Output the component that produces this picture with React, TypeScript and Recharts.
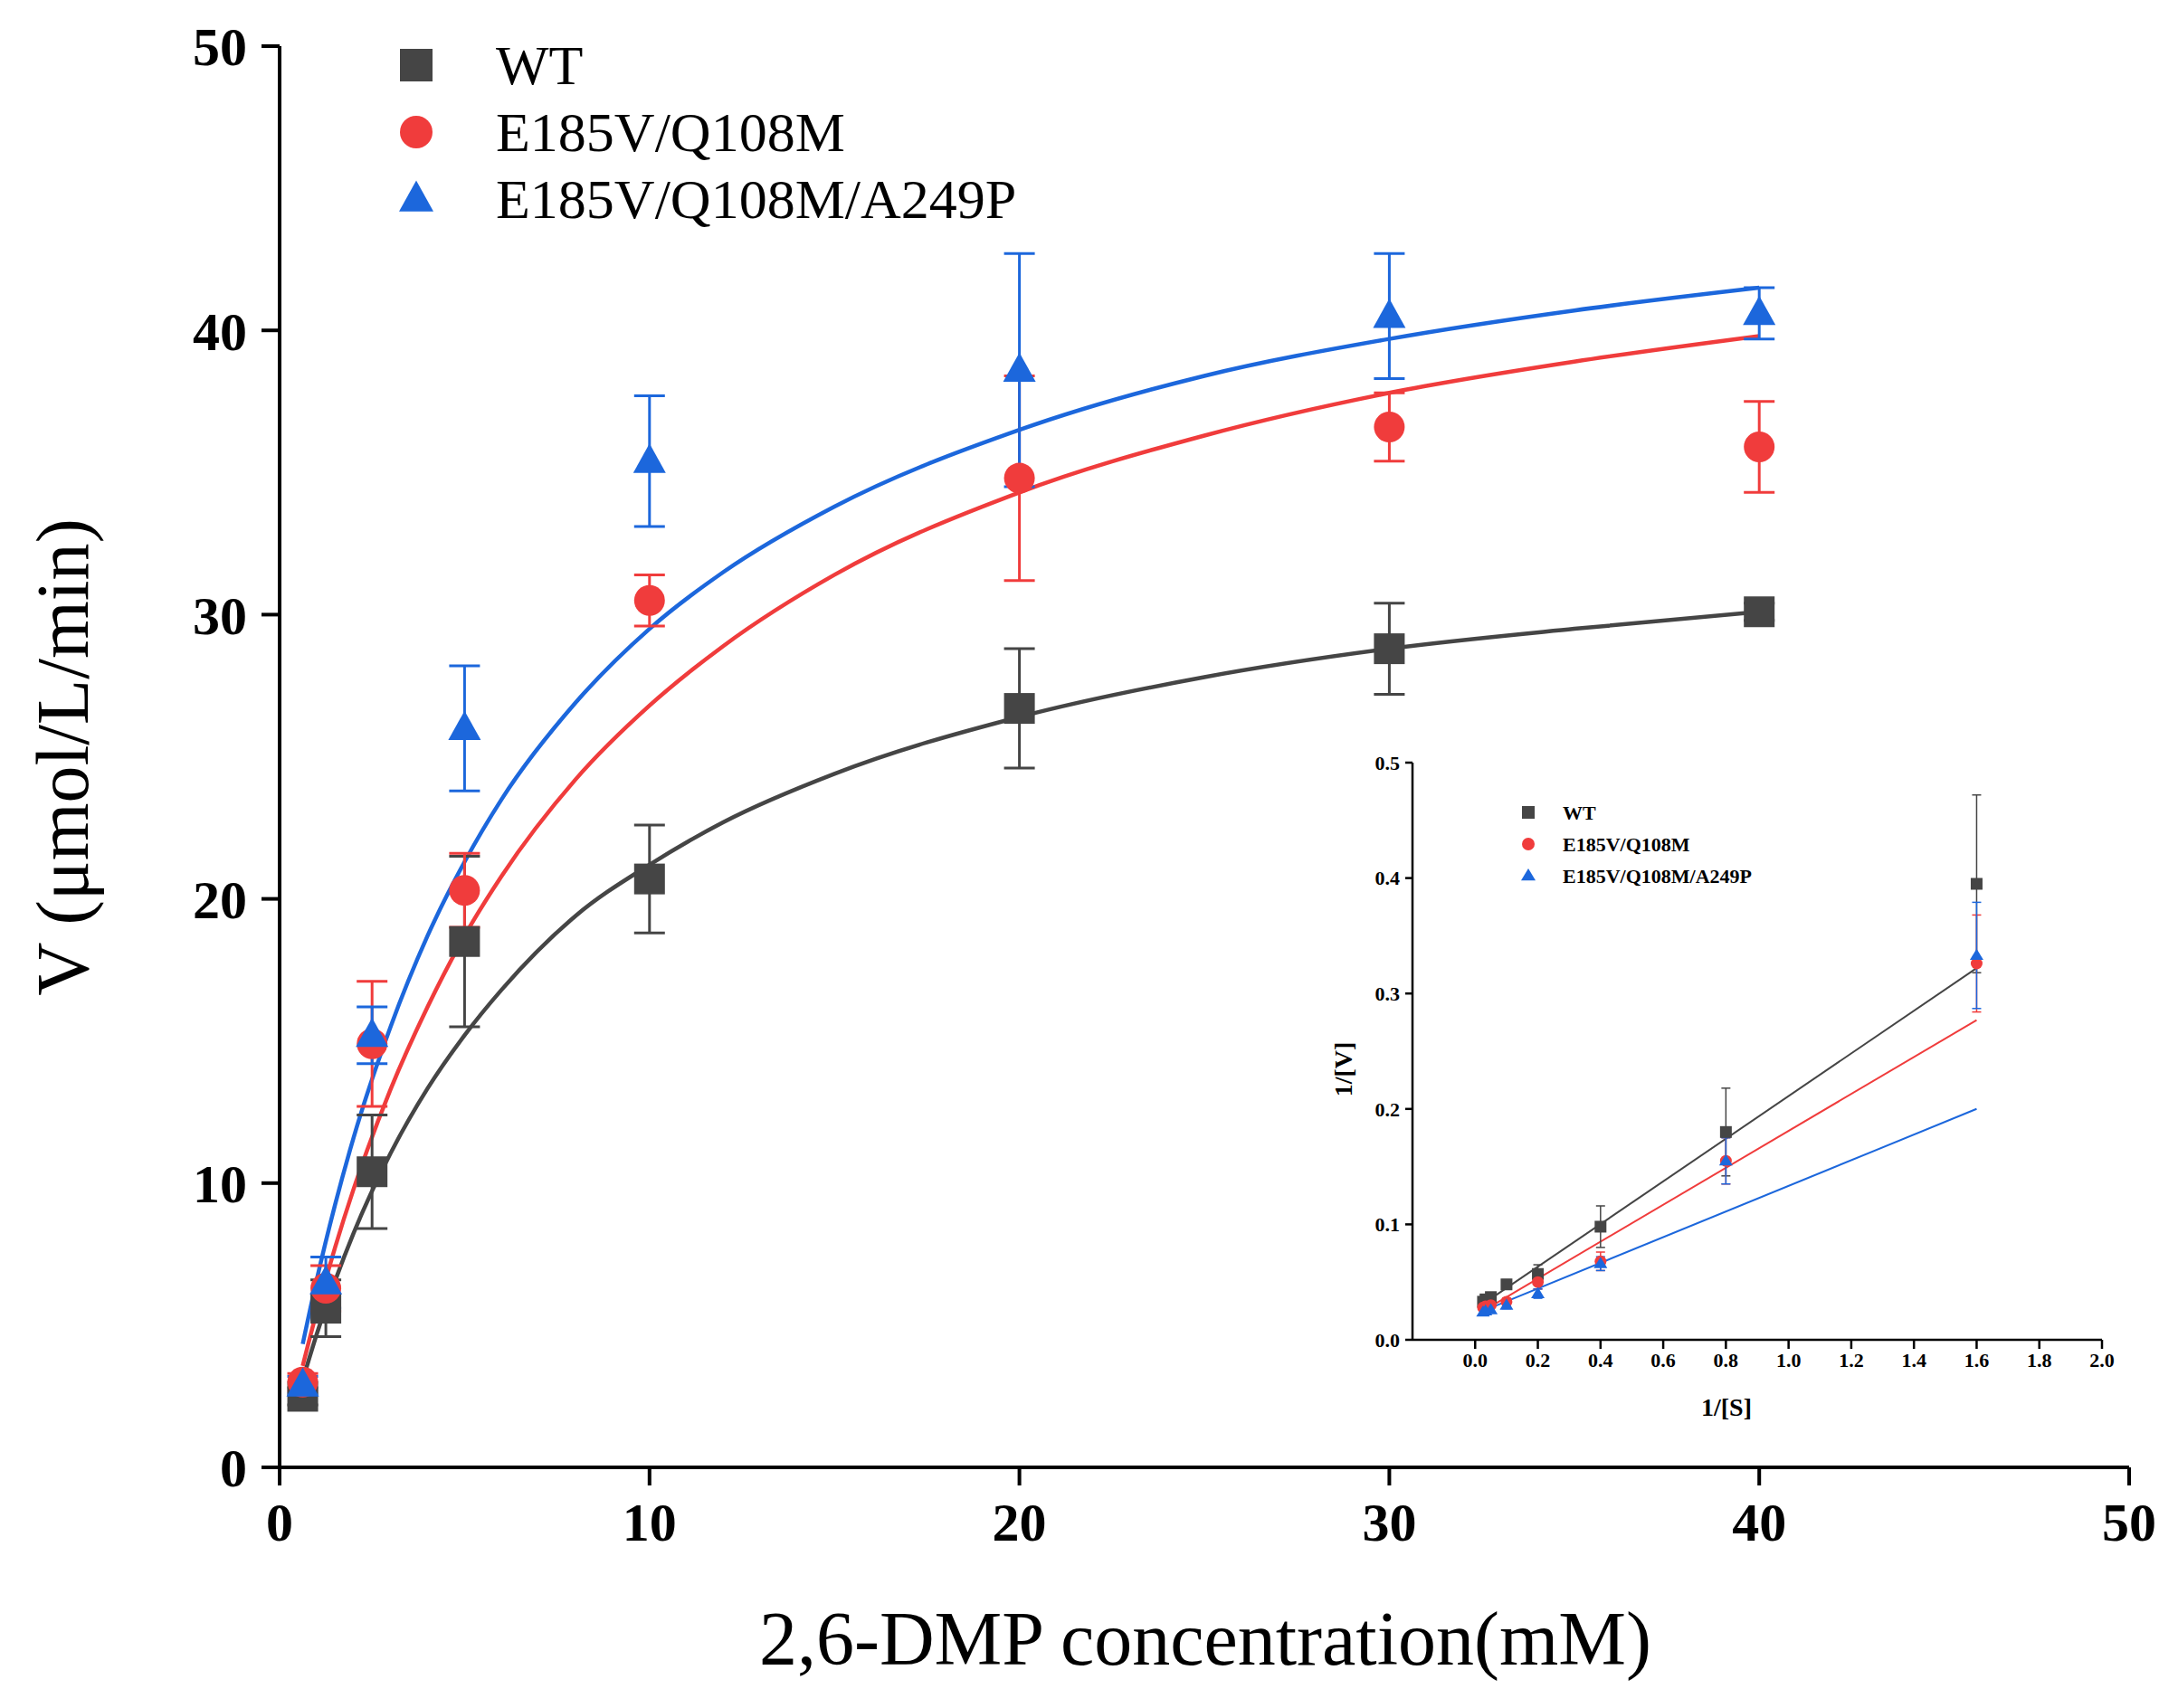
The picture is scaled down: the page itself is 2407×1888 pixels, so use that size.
import React from 'react';
import { ComposedChart, Scatter, Line, XAxis, YAxis, ErrorBar } from 'recharts';

const conc = [0.625, 1.25, 2.5, 5, 10, 20, 30, 40];
const wtV = [2.5, 5.6, 10.4, 18.5, 20.7, 26.7, 28.8, 30.1];
const wtErr = [0.3, 1.0, 2.0, 3.0, 1.9, 2.1, 1.6, 0.3];
const redV = [3.0, 6.3, 14.9, 20.3, 30.5, 34.8, 36.6, 35.9];
const redErr = [0.3, 0.8, 2.2, 1.3, 0.9, 3.6, 1.2, 1.6];
const blueV = [2.9, 6.5, 15.2, 26.0, 35.4, 38.6, 40.5, 40.6];
const blueErr = [0.3, 0.9, 1.0, 2.2, 2.3, 4.1, 2.2, 0.9];

const fitX = [0.625, 1, 1.5, 2, 3, 4, 5, 6, 8, 10, 12, 15, 20, 25, 30, 35, 40];
const wtFit = [3.07, 4.67, 6.56, 8.24, 11.05, 13.33, 15.2, 16.8, 19.4, 21.2, 22.7, 24.4, 26.4, 27.8, 28.8, 29.5, 30.1];
const redFit = [3.57, 5.46, 7.74, 9.79, 13.3, 16.2, 18.7, 20.8, 24.2, 26.8, 28.9, 31.4, 34.3, 36.3, 37.8, 38.9, 39.8];
const blueFit = [4.34, 6.58, 9.24, 11.6, 15.5, 18.7, 21.3, 23.5, 26.9, 29.5, 31.5, 33.8, 36.5, 38.4, 39.7, 40.7, 41.5];

const invS = [0.025, 0.033, 0.05, 0.1, 0.2, 0.4, 0.8, 1.6];
const invWt = [0.033, 0.035, 0.037, 0.048, 0.057, 0.098, 0.18, 0.395];
const invWtErr = [0.002, 0.002, 0.003, 0.004, 0.008, 0.018, 0.038, 0.077];
const invRed = [0.028, 0.029, 0.030, 0.033, 0.05, 0.068, 0.155, 0.326];
const invRedErr = [0.002, 0.002, 0.002, 0.003, 0.006, 0.008, 0.02, 0.042];
const invBlue = [0.024, 0.025, 0.026, 0.03, 0.04, 0.066, 0.155, 0.333];
const invBlueErr = [0.002, 0.002, 0.002, 0.003, 0.004, 0.006, 0.02, 0.046];
const lineX = [0.025, 1.6];
const wtLine = [0.031, 0.322];
const redLine = [0.025, 0.277];
const blueLine = [0.025, 0.2];

const C_WT = '#454545';
const C_RED = '#f03c3c';
const C_BLUE = '#1c67dc';
const FONT = '"Liberation Serif", "Times New Roman", serif';

const pts = (xs: number[], ys: number[], es?: number[]) => xs.map((x, i) => ({ x, y: ys[i], e: es ? es[i] : 0 }));

const mk = (kind: string, color: string, s: number) => (p: any) => {
  const { cx, cy } = p;
  if (cx == null || cy == null) return <g />;
  if (kind === 'sq') return <rect x={cx - s / 2} y={cy - s / 2} width={s} height={s} fill={color} />;
  if (kind === 'ci') return <circle cx={cx} cy={cy} r={s / 2} fill={color} />;
  const h = s * 0.95;
  return <polygon points={`${cx},${cy - h * 0.6} ${cx - s / 2 - 1},${cy + h * 0.4} ${cx + s / 2 + 1},${cy + h * 0.4}`} fill={color} />;
};

export default function App() {
  const mainTick = { fontFamily: FONT, fontSize: 60, fontWeight: 700, fill: '#000' };
  const insetTick = { fontFamily: FONT, fontSize: 22, fontWeight: 700, fill: '#000' };
  const series = [
    { k: 'sq', c: C_WT, v: wtV, e: wtErr, f: wtFit, iv: invWt, ie: invWtErr, l: wtLine, name: 'WT' },
    { k: 'ci', c: C_RED, v: redV, e: redErr, f: redFit, iv: invRed, ie: invRedErr, l: redLine, name: 'E185V/Q108M' },
    { k: 'tr', c: C_BLUE, v: blueV, e: blueErr, f: blueFit, iv: invBlue, ie: invBlueErr, l: blueLine, name: 'E185V/Q108M/A249P' },
  ];
  return (
    <div style={{ position: 'absolute', left: 0, top: 0, width: 2407, height: 1888, background: '#fff' }}>
      <div style={{ position: 'absolute', left: 0, top: 0 }}>
        <ComposedChart width={2407} height={1888} margin={{ top: 51, right: 54, bottom: 0, left: 0 }}>
          <XAxis type="number" dataKey="x" domain={[0, 50]} ticks={[0, 10, 20, 30, 40, 50]} height={266}
            axisLine={{ stroke: '#000', strokeWidth: 4 }} tickLine={{ stroke: '#000', strokeWidth: 4 }} tickSize={20}
            tick={mainTick} tickMargin={18} allowDuplicatedCategory={false} />
          <YAxis type="number" dataKey="y" domain={[0, 50]} ticks={[0, 10, 20, 30, 40, 50]} width={309}
            axisLine={{ stroke: '#000', strokeWidth: 4 }} tickLine={{ stroke: '#000', strokeWidth: 4 }} tickSize={20}
            tick={mainTick} tickMargin={16} />
          {series.map((s) => (
            <Line key={'f' + s.name} data={pts(fitX, s.f)} dataKey="y" type="monotone" stroke={s.c} strokeWidth={4.5}
              dot={false} isAnimationActive={false} />
          ))}
          {series.map((s) => (
            <Scatter key={'s' + s.name} data={pts(conc, s.v, s.e)} dataKey="y" fill={s.c} shape={mk(s.k, s.c, 34)} isAnimationActive={false}>
              <ErrorBar dataKey="e" direction="y" width={17} stroke={s.c} strokeWidth={3} />
            </Scatter>
          ))}
        </ComposedChart>
      </div>
      <div style={{ position: 'absolute', left: 1400, top: 780 }}>
        <ComposedChart width={960} height={815} margin={{ top: 63, right: 37, bottom: 0, left: 0 }}>
          <XAxis type="number" dataKey="x" domain={[-0.2, 2]} ticks={[0, 0.2, 0.4, 0.6, 0.8, 1, 1.2, 1.4, 1.6, 1.8, 2]} height={114}
            tickFormatter={(v: number) => v.toFixed(1)} allowDataOverflow
            axisLine={{ stroke: '#000', strokeWidth: 2.5 }} tickLine={{ stroke: '#000', strokeWidth: 2.5 }} tickSize={10}
            tick={insetTick} tickMargin={4} />
          <YAxis type="number" dataKey="y" domain={[0, 0.5]} ticks={[0, 0.1, 0.2, 0.3, 0.4, 0.5]} width={161}
            tickFormatter={(v: number) => v.toFixed(1)}
            axisLine={{ stroke: '#000', strokeWidth: 2.5 }} tickLine={{ stroke: '#000', strokeWidth: 2.5 }} tickSize={8}
            tick={insetTick} tickMargin={6} />
          {series.map((s) => (
            <Line key={'l' + s.name} data={pts(lineX, s.l)} dataKey="y" type="linear" stroke={s.c} strokeWidth={2}
              dot={false} isAnimationActive={false} />
          ))}
          {series.map((s) => (
            <Scatter key={'is' + s.name} data={pts(invS, s.iv, s.ie)} dataKey="y" fill={s.c} shape={mk(s.k, s.c, 13)} isAnimationActive={false}>
              <ErrorBar dataKey="e" direction="y" width={5} stroke={s.c} strokeWidth={1.5} />
            </Scatter>
          ))}
        </ComposedChart>
      </div>
      <svg style={{ position: 'absolute', left: 0, top: 0 }} width={2407} height={1888} pointerEvents="none">
        {series.map((s, i) => (
          <g key={'lg' + i}>
            {mk(s.k, s.c, 36)({ cx: 460, cy: 72 + i * 74 })}
            <text x={548} y={72 + i * 74} dominantBaseline="central" fontFamily={FONT} fontSize={62}>{s.name}</text>
            {mk(s.k, s.c, 14)({ cx: 1689, cy: 898 + i * 35 })}
            <text x={1727} y={898 + i * 35} dominantBaseline="central" fontFamily={FONT} fontSize={22} fontWeight={700}>{s.name}</text>
          </g>
        ))}
        <text x={1332} y={1811} textAnchor="middle" dominantBaseline="central" fontFamily={FONT} fontSize={84}>2,6-DMP concentration(mM)</text>
        <text transform="translate(69,837) rotate(-90)" textAnchor="middle" dominantBaseline="central" fontFamily={FONT} fontSize={82}>V (μmol/L/min)</text>
        <text x={1908} y={1555} textAnchor="middle" dominantBaseline="central" fontFamily={FONT} fontSize={28} fontWeight={700}>1/[S]</text>
        <text transform="translate(1484,1182) rotate(-90)" textAnchor="middle" dominantBaseline="central" fontFamily={FONT} fontSize={28} fontWeight={700}>1/[V]</text>
      </svg>
    </div>
  );
}
